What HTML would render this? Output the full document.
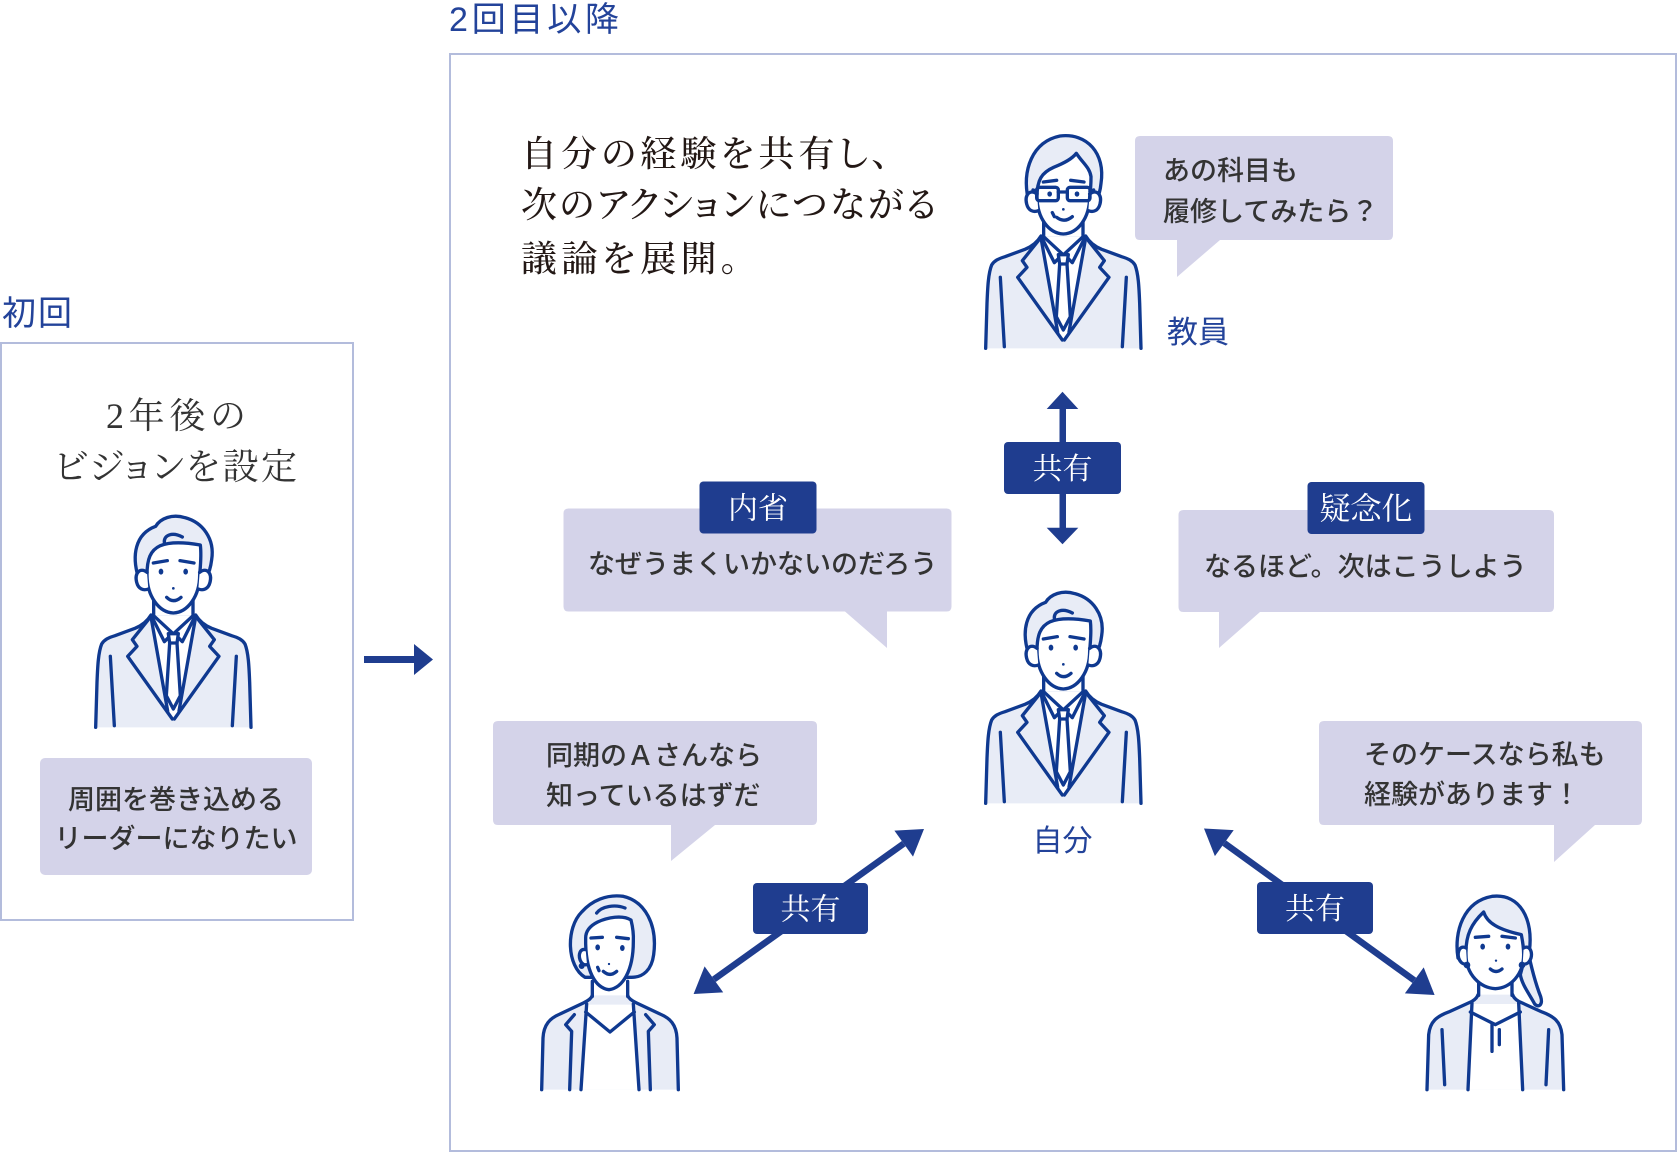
<!DOCTYPE html>
<html><head><meta charset="utf-8">
<style>
html,body{margin:0;padding:0;background:#fff;}
body{width:1680px;height:1154px;overflow:hidden;}
svg{display:block;}
.sans{font-family:"Liberation Sans","Noto Sans CJK JP",sans-serif;}
.serif{font-family:"Liberation Serif","Noto Serif CJK JP","Noto Serif CJK SC",serif;}
.palt{font-feature-settings:"palt" 1;}
</style></head><body>
<svg width="1680" height="1154" viewBox="0 0 1680 1154" xmlns="http://www.w3.org/2000/svg">
<defs>
  <g id="suit">
    <path d="M32,655 L36,520 C38,470 40,430 50,405 C58,392 70,386 90,380 L150,358 C172,349 188,335 198,318 L332,318 C342,335 358,349 380,358 L440,380 C460,386 472,392 480,405 C490,430 492,470 494,520 L498,655 Z" fill="#e8ecf6"/>
    <path d="M198,320 L332,320 L284,604 L265,632 L246,604 Z" fill="#fff"/>
    <g fill="none" stroke="#0f3990" stroke-width="10" stroke-linecap="round" stroke-linejoin="round">
      <path d="M32,655 L36,520 C38,470 40,430 50,405 C58,392 70,386 90,380 L150,358 C172,349 188,335 198,318"/>
      <path d="M498,655 L494,520 C492,470 490,430 480,405 C472,392 460,386 440,380 L380,358 C358,349 342,335 332,318"/>
      <path d="M190,332 L142,392 L156,412 L128,442 L262,630"/>
      <path d="M340,332 L388,392 L374,412 L402,442 L268,630"/>
      <path d="M198,324 L248,606"/>
      <path d="M332,324 L282,606"/>
      <path d="M76,442 L88,650"/>
      <path d="M454,442 L442,650"/>
      <path d="M206,268 L206,320 L262,372"/>
      <path d="M324,268 L324,320 L268,372"/>
      <path d="M200,322 L238,398 L262,374"/>
      <path d="M330,322 L292,398 L268,374"/>
      <path d="M250,374 L280,374 L276,402 L254,402 Z" fill="#fff"/>
      <path d="M254,402 L244,560 L265,600 L286,560 L276,402"/>
    </g>
  </g>
  <g id="headman" stroke="#0f3990" stroke-width="10" stroke-linecap="round" stroke-linejoin="round">
    <path d="M160,205 C140,140 150,75 212,52 C226,28 262,14 300,26 C352,40 390,88 380,152 C377,176 372,192 364,205 Z" fill="#e8ecf6"/>
    <path d="M186,198 C186,150 196,124 226,110 C256,98 300,100 346,108 C350,140 346,172 344,198 C344,262 308,310 265,312 C222,310 186,262 186,198 Z" fill="#fff"/>
    <path d="M186,190 C165,174 148,192 155,220 C160,240 175,246 190,240" fill="#fff"/>
    <path d="M344,190 C365,174 382,192 375,220 C370,240 355,246 340,240" fill="#fff"/>
    <path d="M238,100 C236,78 262,68 292,84" fill="none"/>
    <path d="M205,162 L247,155 M285,155 L327,162" fill="none"/>
    <ellipse cx="228" cy="188" rx="7" ry="9" fill="#0f3990" stroke="none"/>
    <ellipse cx="302" cy="188" rx="7" ry="9" fill="#0f3990" stroke="none"/>
    <circle cx="265" cy="238" r="4" fill="#0f3990" stroke="none"/>
    <path d="M245,265 Q265,285 288,265" fill="none"/>
  </g>
  <g id="headteacher" stroke="#0f3990" stroke-width="10" stroke-linecap="round" stroke-linejoin="round">
    <path d="M160,210 C140,120 172,35 255,18 C336,8 392,70 378,160 C376,182 372,196 364,210 Z" fill="#e8ecf6"/>
    <path d="M186,200 C186,150 200,128 236,112 C266,100 290,88 304,70 C322,98 344,112 348,140 C348,170 346,186 344,200 C344,265 308,310 265,312 C222,310 186,265 186,200 Z" fill="#fff"/>
    <path d="M186,192 C165,176 148,194 155,222 C160,242 175,248 190,242" fill="#fff"/>
    <path d="M344,192 C365,176 382,194 375,222 C370,242 355,248 340,242" fill="#fff"/>
    <rect x="185" y="172" width="65" height="40" rx="8" fill="none"/>
    <rect x="277" y="172" width="68" height="40" rx="8" fill="none"/>
    <path d="M250,186 L277,186 M185,184 L174,180 M345,184 L356,180" fill="none"/>
    <path d="M205,156 L245,151 M287,151 L327,156" fill="none"/>
    <ellipse cx="224" cy="192" rx="7" ry="8" fill="#0f3990" stroke="none"/>
    <ellipse cx="306" cy="192" rx="7" ry="8" fill="#0f3990" stroke="none"/>
    <circle cx="265" cy="238" r="4" fill="#0f3990" stroke="none"/>
    <path d="M245,262 Q268,280 292,260 M232,248 L238,260" fill="none"/>
  </g>
</defs>

<!-- frames -->
<rect x="1" y="343" width="352" height="577" fill="none" stroke="#b3bcdc" stroke-width="2"/>
<rect x="450" y="54" width="1226" height="1097" fill="none" stroke="#b3bcdc" stroke-width="2"/>

<!-- titles -->
<text class="sans" x="449" y="31" font-size="34" fill="#23439a" textLength="170">2回目以降</text>
<text class="sans" x="2" y="325" font-size="34" fill="#23439a" textLength="70">初回</text>

<!-- left box content -->
<text class="serif" x="106" y="428" font-size="36" fill="#333" textLength="140" lengthAdjust="spacing">2年後の</text>
<text class="serif palt" x="55" y="479" font-size="36" fill="#333" textLength="242" lengthAdjust="spacing">ビジョンを設定</text>
<g transform="translate(85,509) scale(0.33333)"><use href="#suit"/><use href="#headman"/></g>
<rect x="40" y="758" width="272" height="117" rx="5" fill="#d4d3e9"/>
<text class="sans" x="176" y="809" font-size="27" font-weight="500" fill="#333" text-anchor="middle">周囲を巻き込める</text>
<text class="sans" x="176" y="848" font-size="27" font-weight="500" fill="#333" text-anchor="middle">リーダーになりたい</text>

<!-- arrow between boxes -->
<rect x="364" y="656" width="52" height="7" fill="#1f3d8f"/>
<polygon points="414,644 433,659.5 414,675" fill="#1f3d8f"/>

<!-- heading -->
<text class="serif palt" x="521" y="166" font-size="36" font-weight="500" fill="#231815" textLength="369" lengthAdjust="spacing">自分の経験を共有し、</text>
<text class="serif palt" x="521" y="217" font-size="36" font-weight="500" fill="#231815" textLength="415" lengthAdjust="spacing">次のアクションにつながる</text>
<text class="serif palt" x="521" y="271" font-size="36" font-weight="500" fill="#231815" textLength="218" lengthAdjust="spacing">議論を展開。</text>

<!-- teacher -->
<g transform="translate(975,130) scale(0.33333)"><use href="#suit"/><use href="#headteacher"/></g>
<path d="M1140,136 H1388 Q1393,136 1393,141 V235 Q1393,240 1388,240 H1220 L1177,277 V240 H1140 Q1135,240 1135,235 V141 Q1135,136 1140,136 Z" fill="#d4d3e9"/>
<text class="sans" x="1163" y="180" font-size="27" font-weight="500" fill="#333">あの科目も</text>
<text class="sans" x="1163" y="221" font-size="27" font-weight="500" fill="#333">履修してみたら？</text>
<text class="sans" x="1167" y="343" font-size="31" fill="#23439a">教員</text>

<!-- vertical share arrow -->
<rect x="1059.5" y="405" width="6.5" height="126" fill="#1f3d8f"/>
<polygon points="1046.7,409 1062.5,391.7 1078.3,409" fill="#1f3d8f"/>
<polygon points="1046.7,527.7 1062.5,544.3 1078.3,527.7" fill="#1f3d8f"/>
<rect x="1004" y="442" width="117" height="52" rx="4" fill="#1f3d8f"/>
<text class="serif" x="1062.5" y="479" font-size="30" fill="#fff" text-anchor="middle">共有</text>

<!-- 内省 bubble -->
<path d="M568.5,508.5 H946.5 Q951.5,508.5 951.5,513.5 V606.5 Q951.5,611.5 946.5,611.5 H887 V648 L845,611.5 H568.5 Q563.5,611.5 563.5,606.5 V513.5 Q563.5,508.5 568.5,508.5 Z" fill="#d4d3e9"/>
<rect x="699.5" y="481.5" width="117" height="52" rx="4" fill="#1f3d8f"/>
<text class="serif" x="758" y="518.5" font-size="30" fill="#fff" text-anchor="middle">内省</text>
<text class="sans" x="588" y="573.5" font-size="27" font-weight="500" fill="#333">なぜうまくいかないのだろう</text>

<!-- 疑念化 bubble -->
<path d="M1183.5,510 H1549 Q1554,510 1554,515 V607 Q1554,612 1549,612 H1260 L1219,648 V612 H1183.5 Q1178.5,612 1178.5,607 V515 Q1178.5,510 1183.5,510 Z" fill="#d4d3e9"/>
<rect x="1307.5" y="482" width="117" height="52" rx="4" fill="#1f3d8f"/>
<text class="serif" x="1366" y="519.5" font-size="31" fill="#fff" text-anchor="middle">疑念化</text>
<text class="sans" x="1204" y="576" font-size="27" font-weight="500" fill="#333">なるほど。次はこうしよう</text>

<!-- center self -->
<g transform="translate(975,585) scale(0.33333)"><use href="#suit"/><use href="#headman"/></g>
<text class="sans" x="1062.5" y="851" font-size="30" fill="#23439a" text-anchor="middle">自分</text>

<!-- 同期 bubble -->
<path d="M498,721 H812 Q817,721 817,726 V820 Q817,825 812,825 H715 L671,861 V825 H498 Q493,825 493,820 V726 Q493,721 498,721 Z" fill="#d4d3e9"/>
<text class="sans" x="546" y="765" font-size="27" font-weight="500" fill="#333">同期のＡさんなら</text>
<text class="sans" x="546" y="805" font-size="27" font-weight="500" fill="#333">知っているはずだ</text>

<!-- そのケース bubble -->
<path d="M1324,721 H1637 Q1642,721 1642,726 V820 Q1642,825 1637,825 H1595 L1554,862 V825 H1324 Q1319,825 1319,820 V726 Q1319,721 1324,721 Z" fill="#d4d3e9"/>
<text class="sans" x="1364" y="764" font-size="27" font-weight="500" fill="#333">そのケースなら私も</text>
<text class="sans" x="1364" y="804" font-size="27" font-weight="500" fill="#333">経験があります！</text>

<!-- diagonal arrows -->
<line x1="713.9" y1="979.4" x2="903.7" y2="843.6" stroke="#1f3d8f" stroke-width="6.5"/>
<polygon points="924,829 913,856.6 894.4,830.6" fill="#1f3d8f"/>
<polygon points="693.6,994 723.2,992.4 704.6,966.4" fill="#1f3d8f"/>
<rect x="753" y="883" width="115" height="51" rx="4" fill="#1f3d8f"/>
<text class="serif" x="810.5" y="919.5" font-size="30" fill="#fff" text-anchor="middle">共有</text>

<line x1="1224.3" y1="843.1" x2="1414.3" y2="980.4" stroke="#1f3d8f" stroke-width="6.5"/>
<polygon points="1204,828.5 1214.9,856.1 1233.7,830.1" fill="#1f3d8f"/>
<polygon points="1434.6,995 1404.9,993.4 1423.7,967.4" fill="#1f3d8f"/>
<rect x="1257" y="882" width="116" height="52" rx="4" fill="#1f3d8f"/>
<text class="serif" x="1315" y="919" font-size="30" fill="#fff" text-anchor="middle">共有</text>

<!-- left woman -->
<g transform="translate(535,888) scale(0.33333)" stroke="#0f3990" stroke-width="10" stroke-linecap="round" stroke-linejoin="round">
  <path d="M20,605 L24,450 C26,410 45,390 75,378 L145,345 C160,338 170,330 172,322 L278,322 C280,330 290,338 305,345 L375,378 C405,390 424,410 426,450 L430,605 Z" fill="#e8ecf6" stroke="none"/>
  <path d="M155,350 L295,350 L312,605 L138,605 Z" fill="#fff" stroke="none"/>
  <g fill="none">
    <path d="M20,605 L24,450 C26,410 45,390 75,378 L145,345 C160,338 170,330 172,322"/>
    <path d="M430,605 L426,450 C424,410 405,390 375,378 L305,345 C290,338 280,330 278,322"/>
    <path d="M155,348 L138,605 M295,348 L312,605"/>
    <path d="M118,380 L92,410 L110,430 L104,605 M332,380 L358,410 L340,430 L346,605"/>
    <path d="M152,372 L225,432 L298,372"/>
    <path d="M172,280 L172,325 M278,280 L278,325"/>
  </g>
  <path d="M150,268 C95,235 92,120 140,72 C170,38 215,18 265,25 C330,40 368,110 356,200 C350,245 325,268 290,268 Z" fill="#e8ecf6"/>
  <path d="M152,150 C152,128 168,112 188,102 C218,88 262,80 288,96 C294,120 296,140 295,160 C295,250 262,300 222,305 C182,300 150,250 152,150 Z" fill="#fff"/>
  <path d="M185,75 C200,55 240,48 270,60" fill="none"/>
  <path d="M152,185 C135,180 130,200 135,215 C140,228 148,232 156,230" fill="#fff"/>
  <circle cx="140" cy="234" r="4" fill="#0f3990"/>
  <path d="M168,150 L202,148 M245,148 L280,152" fill="none"/>
  <ellipse cx="188" cy="178" rx="7" ry="9" fill="#0f3990" stroke="none"/>
  <ellipse cx="262" cy="180" rx="7" ry="9" fill="#0f3990" stroke="none"/>
  <circle cx="222" cy="228" r="3.5" fill="#0f3990" stroke="none"/>
  <path d="M205,250 Q225,268 245,250 M188,238 L192,248" fill="none"/>
</g>

<!-- right woman -->
<g transform="translate(1422,888) scale(0.33333)" stroke="#0f3990" stroke-width="10" stroke-linecap="round" stroke-linejoin="round">
  <path d="M316,180 C328,240 342,290 356,326 C364,352 348,360 338,348 C322,318 300,290 295,260 Z" fill="#e8ecf6"/>
  <path d="M15,605 L20,440 C24,400 45,385 80,372 L150,340 C160,334 166,328 168,320 L272,320 C274,328 280,334 290,340 L360,372 C395,385 416,400 420,440 L425,605 Z" fill="#e8ecf6" stroke="none"/>
  <path d="M150,348 L290,348 L302,605 L138,605 Z" fill="#fff" stroke="none"/>
  <g fill="none">
    <path d="M15,605 L20,440 C24,400 45,385 80,372 L150,340 C160,334 166,328 168,320"/>
    <path d="M425,605 L420,440 C416,400 395,385 360,372 L290,340 C280,334 274,328 272,320"/>
    <path d="M150,345 L138,605 M290,345 L302,605"/>
    <path d="M60,425 L68,590 M380,425 L372,590"/>
    <path d="M145,372 L220,410 L295,372"/>
    <path d="M210,410 L210,490 M232,425 L232,470"/>
    <path d="M170,270 L170,322 M270,270 L270,322"/>
  </g>
  <path d="M108,210 C95,130 125,40 210,25 C295,15 335,95 322,190 L300,195 L130,195 Z" fill="#e8ecf6"/>
  <path d="M132,200 C130,140 150,105 185,72 C195,105 230,125 298,140 C302,160 305,180 305,200 C305,260 265,300 220,302 C175,300 132,260 132,200 Z" fill="#fff"/>
  <path d="M132,180 C115,170 105,190 110,210 C115,225 125,230 135,228" fill="#fff"/>
  <path d="M305,180 C322,170 332,190 327,210 C322,225 312,230 302,228" fill="#fff"/>
  <circle cx="135" cy="231" r="5" fill="#0f3990"/>
  <circle cx="300" cy="231" r="5" fill="#0f3990"/>
  <path d="M160,148 L200,145 M240,145 L280,150" fill="none"/>
  <ellipse cx="182" cy="176" rx="7" ry="9" fill="#0f3990" stroke="none"/>
  <ellipse cx="258" cy="176" rx="7" ry="9" fill="#0f3990" stroke="none"/>
  <circle cx="222" cy="218" r="3.5" fill="#0f3990" stroke="none"/>
  <path d="M205,243 Q222,258 240,243" fill="none"/>
</g>
</svg>
</body></html>
